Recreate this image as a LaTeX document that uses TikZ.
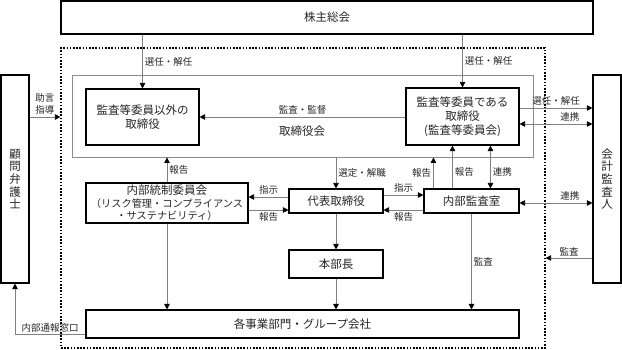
\documentclass[tikz,border=0pt]{standalone}
\usepackage{fontspec}
\newfontfamily\jp{Noto Sans CJK JP}
\usetikzlibrary{arrows.meta,calc}
\begin{document}
\begin{tikzpicture}[x=1pt,y=-1pt,
 box/.style={draw=black,line width=1.1pt,fill=white,inner sep=0pt,font=\jp\fontsize{11.5}{14}\selectfont,align=center,text=black!85},
 vbox/.style={box,font=\jp\fontsize{11.5}{12.6}\selectfont},
 lbl/.style={font=\jp\fontsize{9.5}{12}\selectfont,inner sep=2pt,text=black!85,align=center},
 ln/.style={draw=black!50,line width=0.8pt},
 tip/.tip={Triangle[length=5.5pt,width=5.5pt,black]},
 arr/.style={ln,-tip},
 darr/.style={ln,tip-tip},
]
\useasboundingbox (0,0) rectangle (622,350);
% groups
\node[draw=black,line width=1.2pt,dash pattern=on 1.6pt off 1.6pt,minimum width=484pt,minimum height=300pt,inner sep=0pt] (grp) at (303,198) {};
\node[draw=black!45,line width=0.9pt,minimum width=461pt,minimum height=82pt,inner sep=0pt] (bd) at (302.5,116) {};
\node[font=\jp\fontsize{11.5}{14}\selectfont,text=black!85] (bdl) at (302,131) {取締役会};
% boxes
\node[box,minimum width=532pt,minimum height=33pt] (sh) at (327,17.5) {株主総会};
\node[box,minimum width=113pt,minimum height=56pt] (bd1) at (142.5,117) {監査等委員以外の\\取締役};
\node[box,minimum width=113pt,minimum height=57pt] (aud) at (462.5,116.5) {監査等委員である\\取締役\\(監査等委員会)};
\node[vbox,minimum width=28pt,minimum height=208pt] (law) at (15,179) {顧\\問\\弁\\護\\士};
\node[vbox,minimum width=28pt,minimum height=208pt] (ca) at (607,179) {会\\計\\監\\査\\人};
\node[box,minimum width=162pt,minimum height=40pt] (ic) at (167,203) {内部統制委員会\\[-1.5pt]{\fontsize{10.2}{13}\selectfont （リスク管理・コンプライアンス}\\[-1.5pt]{\fontsize{10.2}{13}\selectfont ・サステナビリティ）}};
\node[box,minimum width=94pt,minimum height=24pt] (rep) at (336,201) {代表取締役};
\node[box,minimum width=95pt,minimum height=24pt] (ia) at (471.5,201) {内部監査室};
\node[box,minimum width=94pt,minimum height=28pt] (hb) at (336,264) {本部長};
\node[box,minimum width=433pt,minimum height=28pt] (biz) at (302.5,324) {各事業部門・グループ会社};
% helper coordinates
\coordinate (h195) at (0,195);
\coordinate (h197) at (0,197);
\coordinate (h203) at (0,203);
\coordinate (h210) at (0,210);
\coordinate (h258) at (0,258);
\coordinate (c1) at ($(aud.east)+(0,-8.5)$);
\coordinate (c2) at ($(aud.east)+(0,7.5)$);
\coordinate (t1) at ($(ia.north west)+(10,0)$);
\coordinate (t2) at ($(ia.north west)+(29,0)$);
\coordinate (t3) at ($(ia.north west)+(67,0)$);
\coordinate (w1) at ($(biz.south west)+(0,-4)$);
% connectors
\draw[arr] (sh.south -| bd1.north) -- node[lbl,right]{選任・解任} (bd1.north);
\draw[arr] (sh.south -| aud.north) -- node[lbl,right]{選任・解任} (aud.north);
\draw[arr] (aud.west |- bd1.east) -- node[lbl,above]{監査・監督} (bd1.east);
\draw[arr] (law.east |- bd1.east) -- node[lbl,above]{助言\\指導} (grp.west |- bd1.east);
\draw[arr] (c1) -- node[lbl,above]{選任・解任} (c1 -| ca.west);
\draw[darr] (c2) -- node[lbl,above,pos=0.69]{連携} (c2 -| ca.west);
\draw[arr] (ic.north) -- node[lbl,right]{報告} (ic.north |- bd.south);
\draw[arr] (ic.south) -- (ic.south |- biz.north);
\draw[arr] (rep.west |- h197) -- node[lbl,above]{指示} (ic.east |- h197);
\draw[arr] (ic.east |- h210) -- node[lbl,below]{報告} (rep.west |- h210);
\draw[arr] (rep.north |- bd.south) -- node[lbl,right]{選定・解職} (rep.north);
\draw[arr] (rep.east |- h195) -- node[lbl,above]{指示} (ia.west |- h195);
\draw[arr] (ia.west |- h210) -- node[lbl,below]{報告} (rep.east |- h210);
\draw[arr] (t1) -- node[lbl,left]{報告} (t1 |- bd.south);
\draw[arr] (t2) -- node[lbl,right,pos=0.39]{報告} (t2 |- aud.south);
\draw[darr] (t3) -- node[lbl,right,pos=0.39]{連携} (t3 |- aud.south);
\draw[darr] (ia.east |- h203) -- node[lbl,above,pos=0.69]{連携} (ca.west |- h203);
\draw[arr] (ca.west |- h258) -- node[lbl,above]{監査} (grp.east |- h258);
\draw[arr] (ia.south) -- node[lbl,right]{監査} (ia.south |- biz.north);
\draw[arr] (rep.south) -- (hb.north);
\draw[arr] (hb.south) -- (hb.south |- biz.north);
\draw[arr] (w1) -| node[lbl,above,pos=0.25]{内部通報窓口} (law.south);
\end{tikzpicture}
\end{document}
